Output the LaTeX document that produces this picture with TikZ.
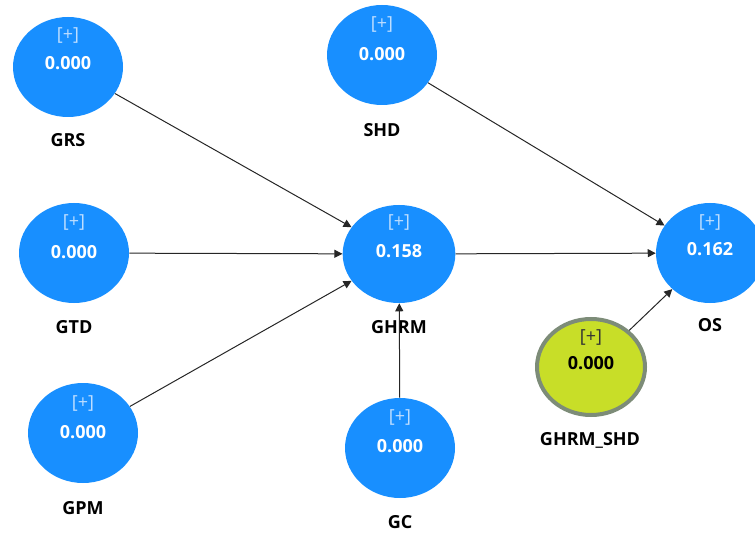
\documentclass[tikz,border=0pt]{standalone}
\usepackage{fontspec}
\setmainfont{Open Sans}
\usetikzlibrary{shapes.geometric,arrows.meta}
\definecolor{lvblue}{RGB}{24,143,255}
\definecolor{lvplus}{RGB}{190,222,255}
\definecolor{modfill}{RGB}{200,222,40}
\definecolor{modring}{RGB}{125,140,120}
\tikzset{
  latent/.style={ellipse, fill=lvblue, draw=none, minimum width=82.5pt, minimum height=75pt, inner sep=0pt},
  modvar/.style={ellipse, fill=modfill, draw=modring, line width=3pt, minimum width=81pt, minimum height=72pt, inner sep=0pt},
  plus/.style={font=\fontsize{13.5}{15}\selectfont, text=lvplus},
  val/.style={font=\fontsize{13.5}{15}\selectfont\bfseries, text=white},
  lab/.style={font=\fontsize{13.5}{15}\selectfont\bfseries, text=black},
  path/.style={draw=black!85, line width=0.75pt, -{Triangle[length=6pt,width=6pt]}}
}
\begin{document}
\begin{tikzpicture}[x=0.75pt,y=-0.75pt]
\useasboundingbox (0,0) rectangle (755,534);
% latent variables
\node[latent] (GRS)  at (68,67) {};
\node[latent] (SHD)  at (382,55) {};
\node[latent] (GTD)  at (74,253) {};
\node[latent, minimum width=84.5pt, minimum height=73.5pt] (GHRM) at (399,254) {};
\node[latent, minimum width=81pt] (OS) at (710,253) {};
\node[latent] (GPM)  at (83,433) {};
\node[latent] (GC)   at (400,448) {};
\node[modvar] (MOD)  at (591,367) {};
% inner texts
\node[plus] at (68,36) {[+]};   \node[val] at (68,63) {0.000};
\node[plus] at (382,25) {[+]};  \node[val] at (382,54) {0.000};
\node[plus] at (74,222) {[+]};  \node[val] at (74,252) {0.000};
\node[plus] at (399,222) {[+]}; \node[val] at (399,251) {0.158};
\node[plus] at (710,222) {[+]}; \node[val] at (710,249) {0.162};
\node[plus] at (83,403) {[+]};  \node[val] at (83,432) {0.000};
\node[plus] at (400,417) {[+]}; \node[val] at (400,446) {0.000};
\node[plus, text=black!80] at (591,337) {[+]};
\node[val, text=black] at (591,363) {0.000};
% names
\node[lab] at (68,140) {GRS};
\node[lab] at (382,130) {SHD};
\node[lab] at (74,327) {GTD};
\node[lab] at (399,327) {GHRM};
\node[lab] at (710,325) {OS};
\node[lab] at (83,508) {GPM};
\node[lab] at (400,522) {GC};
\node[lab] at (590,440) {GHRM\_SHD};
% paths
\draw[path] (GRS) -- (GHRM);
\draw[path] (GTD) -- (GHRM);
\draw[path] (GPM) -- (GHRM);
\draw[path] (GC) -- (GHRM);
\draw[path] (SHD) -- (OS);
\draw[path] (GHRM) -- (OS);
\draw[path] (MOD) -- (OS);
\end{tikzpicture}
\end{document}
